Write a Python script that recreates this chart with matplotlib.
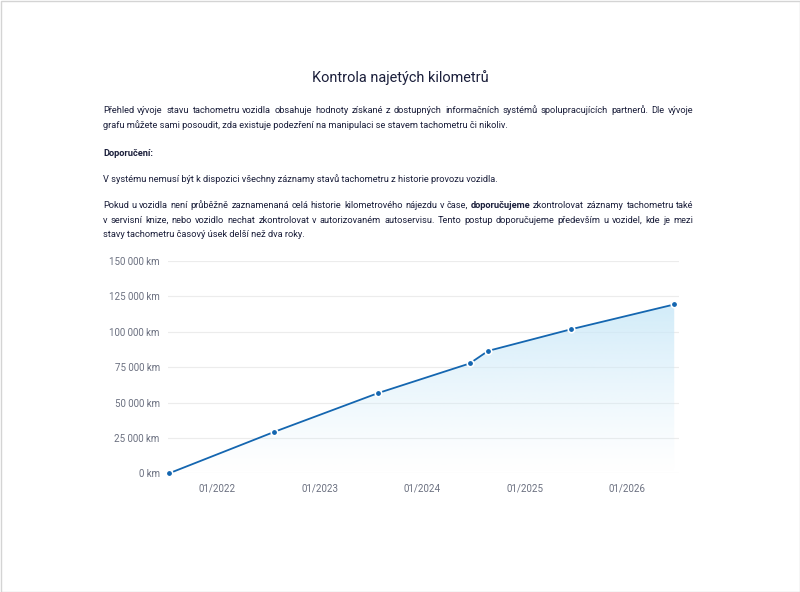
import matplotlib
matplotlib.use("Agg")
import matplotlib.pyplot as plt
import matplotlib.dates as mdates
import matplotlib.ticker as mticker
from matplotlib.patches import Rectangle
import numpy as np

# ---------------- data ----------------
dates = ["2021-07-14", "2022-07-24", "2023-07-29", "2024-06-19",
         "2024-08-24", "2025-06-16", "2026-06-18"]
km = [0, 29300, 56700, 77600, 86500, 101800, 119300]
x_ticks = ["2022-01-01", "2023-01-01", "2024-01-01", "2025-01-01", "2026-01-01"]
y_ticks = [0, 25000, 50000, 75000, 100000, 125000, 150000]

title = "Kontrola najetých kilometrů"
para_lines = [
    # (text segments [(text, bold)], justify, baseline_px)
    ([("Přehled vývoje stavu tachometru vozidla obsahuje hodnoty získané z dostupných informačních systémů spolupracujících partnerů. Dle vývoje", False)], True, 113),
    ([("grafu můžete sami posoudit, zda existuje podezření na manipulaci se stavem tachometru či nikoliv.", False)], False, 128),
    ([("Doporučení:", True)], False, 156),
    ([("V systému nemusí být k dispozici všechny záznamy stavů tachometru z historie provozu vozidla.", False)], False, 182),
    ([("Pokud u vozidla není průběžně zaznamenaná celá historie kilometrového nájezdu v čase,", False),
      ("doporučujeme", True),
      ("zkontrolovat záznamy tachometru také", False)], True, 208),
    ([("v servisní knize, nebo vozidlo nechat zkontrolovat v autorizovaném autoservisu. Tento postup doporučujeme především u vozidel, kde je mezi", False)], True, 223),
    ([("stavy tachometru časový úsek delší než dva roky.", False)], False, 237),
]

# ---------------- style ----------------
FONT = ["Roboto", "DejaVu Sans"]
plt.rcParams["font.family"] = FONT
W, H = 800, 592
TEXT_C = "#1b1f3b"
AXIS_C = "#6b7080"
LINE_C = "#1466b0"

fig = plt.figure(figsize=(W / 100, H / 100), dpi=100)
fig.patch.set_facecolor("white")
fig.add_artist(Rectangle((0.5 / W, 0.5 / H), 1 - 1 / W, 1 - 1 / H, transform=fig.transFigure,
                         fill=False, edgecolor="#d4d4d4", lw=1))

renderer = fig.canvas.get_renderer()


def measure(s, fs, weight="normal"):
    t = fig.text(0, 0, s, fontsize=fs, fontweight=weight)
    w = t.get_window_extent(renderer).width
    t.remove()
    return w


# fit sizes to the reference widths
TITLE_FS = 10 * 177 / measure(title, 10)
FS = 10 * 405 / measure(para_lines[1][0][0][0], 10)

fig.text(0.5, 1 - 82 / H, title, ha="center", va="baseline", fontsize=TITLE_FS, color=TEXT_C)

PX_L, PX_R = 103, 693

for segs, justify, base in para_lines:
    y = 1 - base / H
    if not justify:
        s, b = segs[0]
        fig.text(PX_L / W, y, s, fontsize=FS, color=TEXT_C, ha="left", va="baseline",
                 fontweight="bold" if b else "normal")
        continue
    words = []
    for s, b in segs:
        for wd in s.split(" "):
            words.append((wd, "bold" if b else "normal"))
    widths = [measure(w, FS, b) for w, b in words]
    gap = (PX_R - PX_L - sum(widths)) / (len(words) - 1)
    x = PX_L
    for (wd, b), wdt in zip(words, widths):
        fig.text(x / W, y, wd, fontsize=FS, color=TEXT_C, ha="left", va="baseline", fontweight=b)
        x += wdt + gap

# ---------------- chart ----------------
ax_l, ax_r, ax_t, ax_b = 168, 679, 261, 473.3
ax = fig.add_axes([ax_l / W, 1 - ax_b / H, (ax_r - ax_l) / W, (ax_b - ax_t) / H])
xd = mdates.datestr2num(dates)
yv = np.array(km, dtype=float)

ax.set_xlim(mdates.datestr2num("2021-07-10"), mdates.datestr2num("2026-07-05"))
ax.set_ylim(0, 150000)

# gradient fill
poly = ax.fill_between(xd, yv, 0, color="none", lw=0)
grad = np.zeros((256, 1, 4))
grad[:, 0, 0] = 0.80
grad[:, 0, 1] = 0.915
grad[:, 0, 2] = 0.975
grad[:, 0, 3] = np.linspace(0.9, 0.0, 256) ** 1.2
img = ax.imshow(grad, aspect="auto", extent=[xd[0], xd[-1], 0, yv.max()],
                origin="upper", zorder=1)
img.set_clip_path(poly.get_paths()[0], transform=ax.transData)

ax.plot(xd, yv, color=LINE_C, lw=1.3, zorder=3)
ax.scatter(xd, yv, s=22, color=LINE_C, edgecolors="white", linewidths=1.2, zorder=4, clip_on=False)

ax.set_yticks(y_ticks)
ax.yaxis.set_major_formatter(mticker.FuncFormatter(lambda v, p: f"{int(v):,} km".replace(",", " ")))
ax.set_xticks(mdates.datestr2num(x_ticks))
ax.xaxis.set_major_formatter(mdates.DateFormatter("%m/%Y"))
ax.grid(axis="y", color="#ececec", lw=0.8)
ax.set_axisbelow(True)
for sp in ax.spines.values():
    sp.set_visible(False)
ax.tick_params(axis="both", length=0, labelsize=7, labelcolor=AXIS_C)
ax.tick_params(axis="y", pad=6)
ax.tick_params(axis="x", pad=7)
ax.set_facecolor("none")

fig.savefig("out.png", dpi=100, facecolor="white")
